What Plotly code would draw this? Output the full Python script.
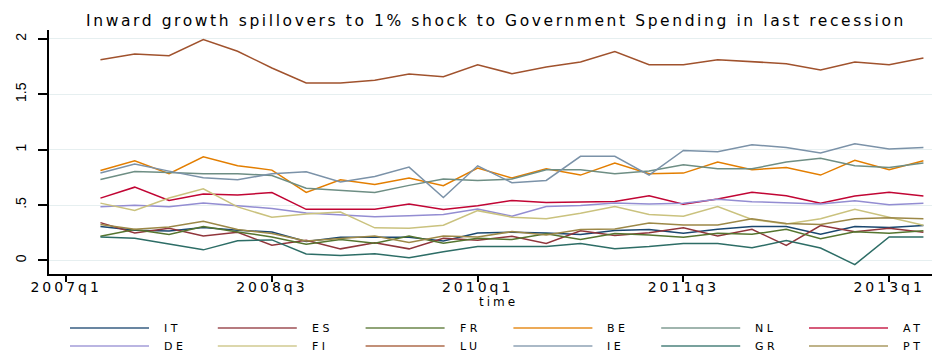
import plotly.graph_objects as go

# Quarterly periods on the time axis (2007q1 is shown as an axis tick only)
periods = ["2007q1", "2007q2", "2007q3", "2007q4",
           "2008q1", "2008q2", "2008q3", "2008q4",
           "2009q1", "2009q2", "2009q3", "2009q4",
           "2010q1", "2010q2", "2010q3", "2010q4",
           "2011q1", "2011q2", "2011q3", "2011q4",
           "2012q1", "2012q2", "2012q3", "2012q4",
           "2013q1", "2013q2"]
quarters = periods[1:]
tick_quarters = ["2007q1", "2008q3", "2010q1", "2011q3", "2013q1"]
y_ticks = [0, 0.5, 1, 1.5, 2]
y_tick_text = ["0", ".5", "1", "1.5", "2"]

# Inward growth spillovers by country, 2007q2 - 2013q2
IT = [0.306, 0.272, 0.266, 0.297, 0.272, 0.258, 0.171, 0.210, 0.210, 0.210, 0.177, 0.249, 0.256,
      0.249, 0.234, 0.270, 0.279, 0.246, 0.282, 0.306, 0.306, 0.236, 0.306, 0.298, 0.315]
ES = [0.342, 0.249, 0.291, 0.222, 0.255, 0.138, 0.182, 0.105, 0.160, 0.105, 0.201, 0.182, 0.219,
      0.153, 0.268, 0.225, 0.250, 0.296, 0.221, 0.281, 0.137, 0.315, 0.260, 0.290, 0.254]
FR = [0.219, 0.279, 0.235, 0.306, 0.258, 0.213, 0.147, 0.189, 0.156, 0.222, 0.156, 0.200, 0.189,
      0.242, 0.189, 0.243, 0.230, 0.209, 0.245, 0.236, 0.281, 0.197, 0.260, 0.245, 0.269]
BE = [0.813, 0.900, 0.783, 0.937, 0.855, 0.816, 0.614, 0.729, 0.687, 0.744, 0.675, 0.834, 0.744,
      0.828, 0.771, 0.880, 0.783, 0.789, 0.889, 0.819, 0.840, 0.771, 0.904, 0.819, 0.900]
NL = [0.732, 0.804, 0.795, 0.783, 0.783, 0.768, 0.652, 0.630, 0.614, 0.678, 0.735, 0.723, 0.735,
      0.819, 0.819, 0.783, 0.807, 0.864, 0.828, 0.828, 0.889, 0.922, 0.855, 0.840, 0.880]
AT = [0.563, 0.662, 0.541, 0.601, 0.592, 0.613, 0.462, 0.462, 0.462, 0.510, 0.460, 0.494, 0.542,
      0.523, 0.530, 0.533, 0.585, 0.507, 0.555, 0.615, 0.585, 0.516, 0.582, 0.615, 0.582]
DE = [0.486, 0.498, 0.486, 0.518, 0.494, 0.470, 0.428, 0.414, 0.395, 0.403, 0.416, 0.465, 0.400,
      0.487, 0.496, 0.520, 0.510, 0.516, 0.553, 0.531, 0.522, 0.510, 0.540, 0.504, 0.516]
FI = [0.518, 0.451, 0.564, 0.648, 0.484, 0.390, 0.420, 0.437, 0.295, 0.292, 0.318, 0.450, 0.391,
      0.376, 0.427, 0.487, 0.415, 0.400, 0.487, 0.370, 0.330, 0.376, 0.463, 0.387, 0.318]
LU = [1.813, 1.864, 1.849, 1.994, 1.889, 1.738, 1.602, 1.602, 1.627, 1.684, 1.660, 1.768, 1.687,
      1.747, 1.792, 1.886, 1.768, 1.768, 1.813, 1.792, 1.777, 1.720, 1.792, 1.768, 1.828]
IE = [0.789, 0.870, 0.807, 0.747, 0.729, 0.783, 0.801, 0.708, 0.759, 0.843, 0.569, 0.855, 0.702,
      0.723, 0.940, 0.940, 0.771, 0.994, 0.982, 1.045, 1.021, 0.970, 1.054, 1.006, 1.021]
GR = [0.213, 0.200, 0.149, 0.096, 0.178, 0.186, 0.058, 0.045, 0.060, 0.025, 0.078, 0.126, 0.126,
      0.126, 0.153, 0.106, 0.126, 0.153, 0.153, 0.115, 0.180, 0.113, -0.037, 0.212, 0.212]
PT = [0.324, 0.282, 0.303, 0.354, 0.279, 0.243, 0.175, 0.198, 0.222, 0.163, 0.222, 0.213, 0.261,
      0.231, 0.279, 0.284, 0.338, 0.321, 0.320, 0.377, 0.333, 0.325, 0.377, 0.386, 0.377]

countries = ["IT", "ES", "FR", "BE", "NL", "AT", "DE", "FI", "LU", "IE", "GR", "PT"]
series = [IT, ES, FR, BE, NL, AT, DE, FI, LU, IE, GR, PT]
colors = ["#1a476f", "#90353b", "#55752f", "#e37e00", "#6e8e84", "#c10534",
          "#938dd2", "#cac27e", "#a0522d", "#7b92a8", "#2d6d66", "#9c8847"]

W, H = 932, 352
L, R, T, B = 49, 932, 30, 274   # plot area in pixels


def px_x(p):
    return (p - L) / (R - L)


def px_y(p):
    return (B - p) / (B - T)


def spaced(text, sp):
    return f'<span style="letter-spacing:{sp}px">{text}</span>'


fig = go.Figure()
for name, vals, col in zip(countries, series, colors):
    fig.add_trace(go.Scatter(x=quarters, y=vals, mode="lines", name=name,
                             line=dict(color=col, width=1.5), showlegend=False))

# Legend drawn as two rows of six entries below the axis title
shapes, annotations = [], []
for k, (name, col) in enumerate(zip(countries, colors)):
    row, c = divmod(k, 6)
    x0 = 70 + 147.8 * c
    yy = 328 if row == 0 else 346
    shapes.append(dict(type="line", xref="paper", yref="paper",
                       x0=px_x(x0), x1=px_x(x0 + 79), y0=px_y(yy), y1=px_y(yy),
                       line=dict(color=col, width=2 if row == 0 else 1.4),
                       opacity=0.65 if row == 0 else 0.85))
    annotations.append(dict(text=spaced(name, 3.5), xref="paper", yref="paper",
                            x=px_x(x0 + 92), y=px_y(yy), xanchor="left", yanchor="middle",
                            showarrow=False, font=dict(size=11, color="#000000",
                                                       family="DejaVu Sans")))

annotations.append(dict(text=spaced("time", 3), xref="paper", yref="paper",
                        x=px_x(498), y=px_y(302), xanchor="center", yanchor="middle",
                        showarrow=False, font=dict(size=12, color="#000000", family="DejaVu Sans")))

fig.update_layout(
    width=W, height=H,
    margin=dict(l=L, r=W - R, t=T, b=H - B, pad=0),
    paper_bgcolor="white", plot_bgcolor="white",
    font=dict(family="Liberation Sans", color="#000000"),
    title=dict(text=spaced("Inward growth spillovers to 1% shock to Government Spending in last recession", 2.6),
               x=496 / W, xanchor="center", xref="container",
               y=1 - 20.5 / H, yanchor="middle", yref="container",
               font=dict(size=15.5, family="DejaVu Sans", color="#000000")),
    shapes=shapes,
    annotations=annotations,
    xaxis=dict(type="category", categoryorder="array", categoryarray=periods,
               range=[-0.5, 25.25], tickmode="array", tickvals=tick_quarters,
               ticktext=[spaced(t, 3) for t in tick_quarters],
               ticks="outside", ticklen=6, tickwidth=1.5, tickcolor="#000000",
               showline=True, linecolor="#000000", linewidth=2,
               showgrid=False, zeroline=False, ticklabelstandoff=-7,
               tickfont=dict(size=14, family="DejaVu Sans", color="#000000")),
    yaxis=dict(range=[-0.122, 2.081], tickmode="array", tickvals=y_ticks, ticktext=y_tick_text,
               tickangle=-90, ticks="outside", ticklen=9, tickwidth=1.5, tickcolor="#000000",
               showline=True, linecolor="#000000", linewidth=2,
               showgrid=True, gridcolor="#e6eff0", gridwidth=1.2, zeroline=False,
               ticklabelstandoff=6,
               tickfont=dict(size=14, family="Liberation Sans", color="#000000")),
)

fig.write_html("out.html")
